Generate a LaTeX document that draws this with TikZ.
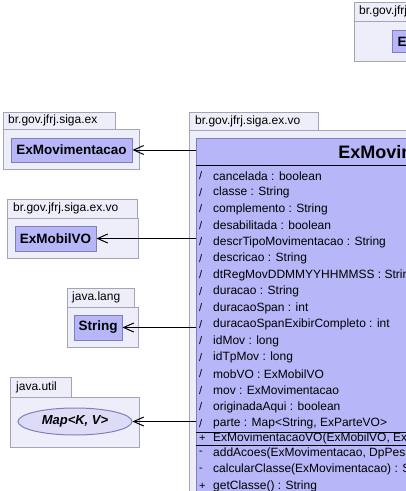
\documentclass[tikz,border=0pt]{standalone}
\usepackage{fontspec}
\setmainfont{Liberation Sans}
\usetikzlibrary{arrows.meta, shapes.geometric, positioning}

\definecolor{pkgfill}{RGB}{238,238,250}
\definecolor{pkgline}{RGB}{164,164,180}
\definecolor{clsfill}{RGB}{182,182,248}
\definecolor{clsline}{RGB}{128,128,184}
\definecolor{ifcfill}{RGB}{220,220,247}

\tikzset{
  pkg/.style={draw=pkgline, fill=pkgfill, line width=1pt},
  pkgname/.style={anchor=west, inner sep=0pt, font=\fontsize{12}{14}\selectfont},
  cls/.style={draw=clsline, fill=clsfill, line width=1pt, inner sep=0pt,
    font=\bfseries\fontsize{13.5}{15}\selectfont},
  ifc/.style={ellipse, draw=clsline, fill=ifcfill, line width=1pt, inner sep=0pt,
    font=\bfseries\itshape\fontsize{13}{15}\selectfont},
  assoc/.style={-{Straight Barb[length=10pt,width=9pt]}, line width=1pt},
  row/.style={anchor=west, inner sep=0pt, font=\fontsize{12}{14}\selectfont},
  vis/.style={anchor=west, inner sep=0pt, font=\fontsize{11}{13}\selectfont},
}

\begin{document}
\begin{tikzpicture}[x=1pt,y=-1pt]
    \useasboundingbox (0,0) rectangle (406,491);
    \clip (0,0) rectangle (406,491);

    % pacote em cima a direita
    \draw[pkg] (354,2) rectangle (490,21);
    \draw[pkg] (354,21) rectangle (520,61);
    \node[pkgname] (lblTop) at (359,11.5) {br.gov.jfrj.siga.ex};
    \node[cls, anchor=north west, minimum height=22pt, inner xsep=5pt] (mobil) at (392,30) {ExMobil};

    % pacote br.gov.jfrj.siga.ex
    \draw[pkg] (3,112) rectangle (115,129);
    \draw[pkg] (3,129) rectangle (139,169);
    \node[pkgname] (lblEx) at (8,120.5) {br.gov.jfrj.siga.ex};
    \node[cls, minimum width=121pt, minimum height=24pt] (mov) at (71.5,150) {ExMovimentacao};

    % pacote br.gov.jfrj.siga.ex.vo
    \draw[pkg] (7,199) rectangle (137,218);
    \draw[pkg] (7,218) rectangle (138,258);
    \node[pkgname] (lblVo) at (13,208.5) {br.gov.jfrj.siga.ex.vo};
    \node[cls, minimum width=81pt, minimum height=25pt] (mobvo) at (55.5,238.5) {ExMobilVO};

    % pacote java.lang
    \draw[pkg] (67,288) rectangle (134,307);
    \draw[pkg] (67,307) rectangle (138,347);
    \node[pkgname] (lblLang) at (72,297.5) {java.lang};
    \node[cls, minimum width=48pt, minimum height=25pt] (str) at (98,327.5) {String};

    % pacote java.util
    \draw[pkg] (10,377) rectangle (71,397);
    \draw[pkg] (10,397) rectangle (139,447);
    \node[pkgname] (lblUtil) at (16,387) {java.util};
    \node[ifc, minimum width=114pt, minimum height=27pt] (map) at (75,421.5) {Map<K, V>};

    % pacote da classe principal
    \draw[pkg] (189,112) rectangle (318,130);
    \draw[pkg] (189,130) rectangle (700,700);
    \node[pkgname] (lblMain) at (195,121) {br.gov.jfrj.siga.ex.vo};

    % classe ExMovimentacaoVO
    \node[cls, anchor=north west, minimum width=458pt, minimum height=520pt] (vo) at (196,138) {};
    \node[font=\bfseries\fontsize{18}{20}\selectfont, inner sep=0pt] (voname) at (425,152.5) {ExMovimentacaoVO};
    \draw[line width=1pt] (196,165) -- (654,165);
    \draw[line width=1pt] (196,432) -- (654,432);
    \draw[line width=1pt] (196,445) -- (654,445);

    % atributos
    \node[vis] (m1) at (199,176) {/};   \node[row] (a1) at (213,176) {cancelada : boolean};
    \node[vis] (m2) at (199,192.5) {/}; \node[row] (a2) at (213,192.5) {classe : String};
    \node[vis] (m3) at (199,209) {/};   \node[row] (a3) at (213,209) {complemento : String};
    \node[vis] (m4) at (199,225.5) {/}; \node[row] (a4) at (213,225.5) {desabilitada : boolean};
    \node[vis] (m5) at (199,242) {/};   \node[row] (a5) at (213,242) {descrTipoMovimentacao : String};
    \node[vis] (m6) at (199,258.5) {/}; \node[row] (a6) at (213,258.5) {descricao : String};
    \node[vis] (m7) at (199,275) {/};   \node[row] (a7) at (213,275) {dtRegMovDDMMYYHHMMSS : String};
    \node[vis] (m8) at (199,291.5) {/}; \node[row] (a8) at (213,291.5) {duracao : String};
    \node[vis] (m9) at (199,308) {/};   \node[row] (a9) at (213,308) {duracaoSpan : int};
    \node[vis] (m10) at (199,324.5) {/}; \node[row] (a10) at (213,324.5) {duracaoSpanExibirCompleto : int};
    \node[vis] (m11) at (199,341) {/};   \node[row] (a11) at (213,341) {idMov : long};
    \node[vis] (m12) at (199,357.5) {/}; \node[row] (a12) at (213,357.5) {idTpMov : long};
    \node[vis] (m13) at (199,374) {/};   \node[row] (a13) at (213,374) {mobVO : ExMobilVO};
    \node[vis] (m14) at (199,390.5) {/}; \node[row] (a14) at (213,390.5) {mov : ExMovimentacao};
    \node[vis] (m15) at (199,407) {/};   \node[row] (a15) at (213,407) {originadaAqui : boolean};
    \node[vis] (m16) at (199,423.5) {/}; \node[row] (a16) at (213,423.5) {parte : Map<String, ExParteVO>};

    % construtor e metodos
    \node[vis] (k1) at (199,438.5) {+}; \node[row] (c1) at (213,438.5) {ExMovimentacaoVO(ExMobilVO, ExMovimentacao)};
    \node[vis] (k2) at (199,453) {-};   \node[row] (o1) at (213,453) {addAcoes(ExMovimentacao, DpPessoa, DpLotacao)};
    \node[vis] (k3) at (199,469.5) {-}; \node[row] (o2) at (213,469.5) {calcularClasse(ExMovimentacao) : String};
    \node[vis] (k4) at (199,486) {+};   \node[row] (o3) at (213,486) {getClasse() : String};

    % associacoes
    \draw[assoc] (vo.west |- mov.east) -- (mov.east);
    \draw[assoc] (vo.west |- mobvo.east) -- (mobvo.east);
    \draw[assoc] (vo.west |- str.east) -- (str.east);
    \draw[assoc] (vo.west |- map.east) -- (map.east);
\end{tikzpicture}
\end{document}
